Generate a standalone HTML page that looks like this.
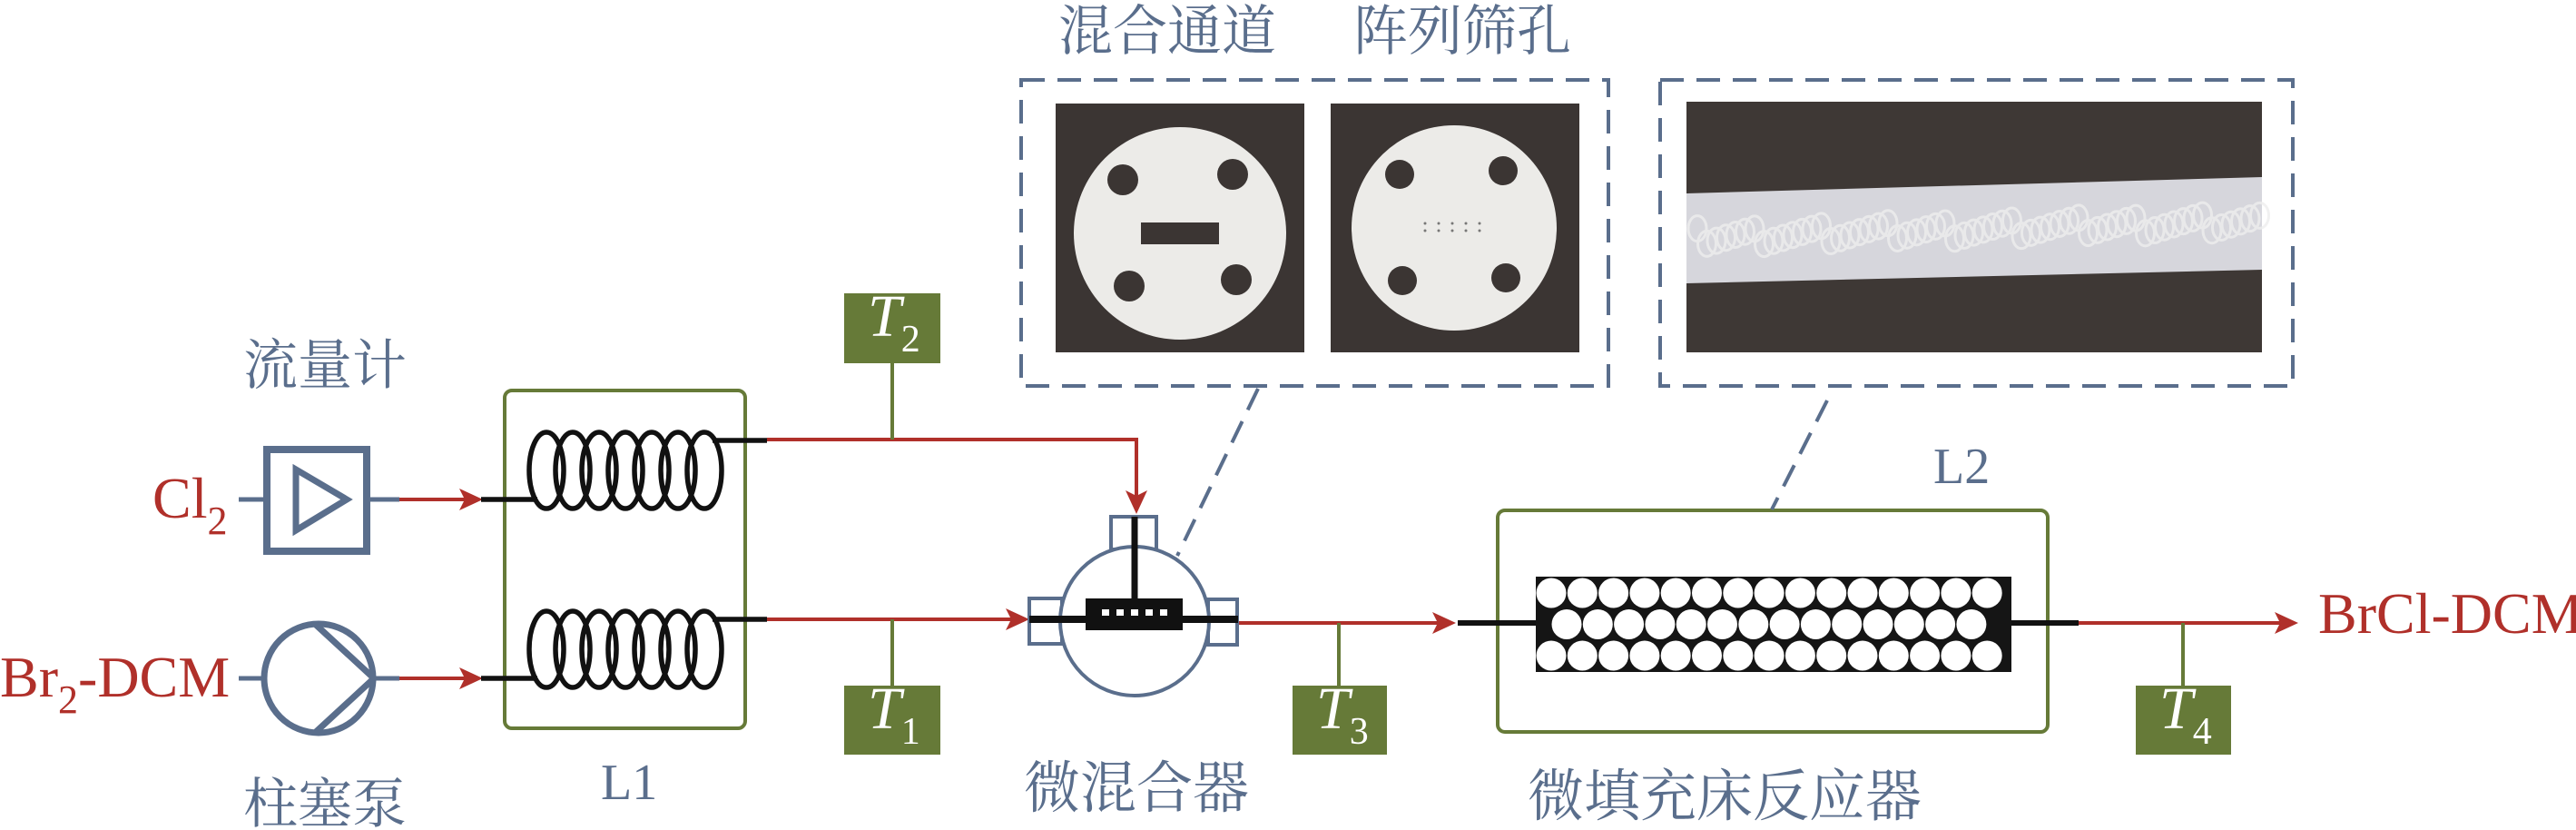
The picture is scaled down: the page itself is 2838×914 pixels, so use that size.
<!DOCTYPE html>
<html><head><meta charset="utf-8"><style>
html,body{margin:0;padding:0;background:#fff;}
svg{display:block;}
.cn{font-family:"Liberation Serif","Noto Serif CJK SC","Noto Sans CJK SC",serif;fill:#5a6e8c;}
.red{font-family:"Liberation Serif",serif;fill:#b0302a;}
.tt{font-family:"Liberation Serif",serif;fill:#fff;}
</style></head><body>
<svg width="2838" height="914" viewBox="0 0 2838 914" xmlns="http://www.w3.org/2000/svg">
<!-- labels -->
<text class="cn" x="268" y="423" font-size="60">流量计</text>
<text class="cn" x="268" y="906" font-size="60">柱塞泵</text>
<text class="cn" x="662" y="880" font-size="56">L1</text>
<text class="cn" x="2130" y="532" font-size="56">L2</text>
<text class="cn" x="1128" y="889" font-size="62">微混合器</text>
<text class="cn" x="1683" y="898" font-size="62">微填充床反应器</text>
<text class="cn" x="1166" y="55" font-size="60">混合通道</text>
<text class="cn" x="1491" y="55" font-size="60">阵列筛孔</text>
<text class="red" x="168" y="570" font-size="64">Cl<tspan font-size="44" dy="18">2</tspan></text>
<text class="red" x="0" y="767" font-size="64">Br<tspan font-size="44" dy="18">2</tspan><tspan dy="-18">-DCM</tspan></text>
<text class="red" x="2554" y="697" font-size="64">BrCl-DCM</text>

<!-- flowmeter -->
<rect x="294" y="495" width="110" height="112" fill="none" stroke="#5a6e8c" stroke-width="8"/>
<polygon points="326,517 382,550 326,584" fill="none" stroke="#5a6e8c" stroke-width="7"/>
<line x1="263" y1="550" x2="294" y2="550" stroke="#5a6e8c" stroke-width="5"/>
<line x1="404" y1="550" x2="440" y2="550" stroke="#5a6e8c" stroke-width="5"/>
<!-- pump -->
<circle cx="351" cy="747" r="60" fill="none" stroke="#5a6e8c" stroke-width="7"/>
<polyline points="348,688 412,747 348,806" fill="none" stroke="#5a6e8c" stroke-width="7"/>
<line x1="263" y1="747" x2="291" y2="747" stroke="#5a6e8c" stroke-width="5"/>
<line x1="411" y1="747" x2="440" y2="747" stroke="#5a6e8c" stroke-width="5"/>

<!-- red inputs -->
<line x1="440" y1="550" x2="520" y2="550" stroke="#b0302a" stroke-width="4"/>
<polygon points="532,550 506,538 512,550 506,562" fill="#b0302a"/>
<line x1="440" y1="747" x2="520" y2="747" stroke="#b0302a" stroke-width="4"/>
<polygon points="532,747 506,735 512,747 506,759" fill="#b0302a"/>

<!-- L1 box -->
<rect x="556" y="430" width="265" height="372" rx="8" fill="none" stroke="#667a38" stroke-width="4"/>
<!-- coils -->
<g fill="none" stroke="#111" stroke-width="5.5">
<line x1="530" y1="550" x2="592" y2="550"/><line x1="785" y1="485" x2="845" y2="485"/>
<line x1="530" y1="747" x2="592" y2="747"/><line x1="785" y1="682" x2="845" y2="682"/>
<ellipse cx="602" cy="518" rx="19" ry="42"/><ellipse cx="631" cy="518" rx="19" ry="42"/><ellipse cx="660" cy="518" rx="19" ry="42"/><ellipse cx="689" cy="518" rx="19" ry="42"/><ellipse cx="718" cy="518" rx="19" ry="42"/><ellipse cx="747" cy="518" rx="19" ry="42"/><ellipse cx="776" cy="518" rx="19" ry="42"/>
<ellipse cx="602" cy="715" rx="19" ry="42"/><ellipse cx="631" cy="715" rx="19" ry="42"/><ellipse cx="660" cy="715" rx="19" ry="42"/><ellipse cx="689" cy="715" rx="19" ry="42"/><ellipse cx="718" cy="715" rx="19" ry="42"/><ellipse cx="747" cy="715" rx="19" ry="42"/><ellipse cx="776" cy="715" rx="19" ry="42"/>
</g>

<!-- red lines to mixer -->
<polyline points="845,484 1252,484 1252,552" fill="none" stroke="#b0302a" stroke-width="4"/>
<polygon points="1252,566 1240,540 1252,546 1264,540" fill="#b0302a"/>
<line x1="845" y1="682" x2="1122" y2="682" stroke="#b0302a" stroke-width="4"/>
<polygon points="1134,682 1108,670 1114,682 1108,694" fill="#b0302a"/>
<line x1="1364" y1="686" x2="1592" y2="686" stroke="#b0302a" stroke-width="4"/>
<polygon points="1604,686 1578,674 1584,686 1578,698" fill="#b0302a"/>
<line x1="2290" y1="686" x2="2520" y2="686" stroke="#b0302a" stroke-width="4"/>
<polygon points="2532,686 2506,674 2512,686 2506,698" fill="#b0302a"/>

<!-- T stems -->
<g stroke="#667a38" stroke-width="4">
<line x1="983" y1="400" x2="983" y2="484"/>
<line x1="983" y1="682" x2="983" y2="756"/>
<line x1="1475" y1="686" x2="1475" y2="756"/>
<line x1="2405" y1="686" x2="2405" y2="756"/>
</g>
<g fill="#667a38">
<rect x="930" y="323" width="106" height="77"/>
<rect x="930" y="755" width="106" height="76"/>
<rect x="1424" y="755" width="104" height="76"/>
<rect x="2353" y="755" width="105" height="76"/>
</g>
<text class="tt" x="956" y="370" font-size="66" font-style="italic">T<tspan font-style="normal" font-size="42" dy="17">2</tspan></text>
<text class="tt" x="956" y="802" font-size="66" font-style="italic">T<tspan font-style="normal" font-size="42" dy="17">1</tspan></text>
<text class="tt" x="1450" y="802" font-size="66" font-style="italic">T<tspan font-style="normal" font-size="42" dy="17">3</tspan></text>
<text class="tt" x="2379" y="802" font-size="66" font-style="italic">T<tspan font-style="normal" font-size="42" dy="17">4</tspan></text>

<!-- mixer -->
<g fill="#fff" stroke="#5a6e8c" stroke-width="4">
<rect x="1224" y="569" width="50" height="36"/>
<rect x="1134" y="659" width="36" height="50"/>
<rect x="1331" y="660" width="32" height="50"/>
<circle cx="1250" cy="684" r="82"/>
</g>
<rect x="1196" y="659" width="107" height="12" fill="#111"/>
<rect x="1196" y="671" width="107" height="8" fill="#fff"/>
<line x1="1196" y1="675" x2="1303" y2="675" stroke="#111" stroke-width="8" stroke-dasharray="18,8,8,8,8,8,8,8,8,8,13,0"/>
<rect x="1196" y="678" width="107" height="16" fill="#111"/>
<line x1="1134" y1="682" x2="1364" y2="682" stroke="#111" stroke-width="8"/>
<line x1="1250" y1="569" x2="1250" y2="661" stroke="#111" stroke-width="7"/>

<!-- L2 -->
<rect x="1650" y="562" width="606" height="244" rx="8" fill="none" stroke="#667a38" stroke-width="4"/>
<line x1="1606" y1="686" x2="1692" y2="686" stroke="#111" stroke-width="6"/>
<line x1="2216" y1="686" x2="2290" y2="686" stroke="#111" stroke-width="6"/>
<rect x="1692" y="635" width="524" height="105" fill="#151515"/>
<g fill="#fff" id="beads"></g>

<!-- dashed boxes -->
<g fill="none" stroke="#5a6e8c" stroke-width="4" stroke-dasharray="26,14">
<rect x="1125" y="88" width="647" height="337"/>
<rect x="1829" y="88" width="697" height="337"/>
<line x1="1386" y1="428" x2="1297" y2="612"/>
<line x1="2013" y1="441" x2="1952" y2="561"/>
</g>

<!-- photos -->
<rect x="1163" y="114" width="274" height="274" fill="#3b3533"/>
<circle cx="1300" cy="257" r="117" fill="#ecebe8"/>
<g fill="#3b3533"><circle cx="1237" cy="198" r="17"/><circle cx="1358" cy="192" r="17"/><circle cx="1244" cy="315" r="17"/><circle cx="1362" cy="308" r="17"/><rect x="1257" y="245" width="86" height="24"/></g>
<rect x="1466" y="114" width="274" height="274" fill="#3b3533"/>
<circle cx="1602" cy="251" r="113" fill="#ecebe8"/>
<g fill="#3b3533"><circle cx="1542" cy="192" r="16"/><circle cx="1656" cy="188" r="16"/><circle cx="1545" cy="309" r="16"/><circle cx="1659" cy="306" r="16"/></g>
<g fill="#777"><circle cx="1570" cy="246" r="1.5"/><circle cx="1585" cy="246" r="1.5"/><circle cx="1600" cy="246" r="1.5"/><circle cx="1615" cy="246" r="1.5"/><circle cx="1630" cy="246" r="1.5"/><circle cx="1570" cy="254" r="1.5"/><circle cx="1585" cy="254" r="1.5"/><circle cx="1600" cy="254" r="1.5"/><circle cx="1615" cy="254" r="1.5"/><circle cx="1630" cy="254" r="1.5"/></g>
<rect x="1858" y="112" width="634" height="276" fill="#3e3835"/>
<polygon points="1858,213 2492,195 2492,297 1858,312" fill="#d6d6dc"/>
<g id="tb" fill="none" stroke="#eeeeee" stroke-width="3" opacity="0.8"></g>
</svg>
<script>
var g=document.getElementById('beads'),ns='http://www.w3.org/2000/svg',r=16.5;
for(var row=0;row<3;row++){var y=653+row*34.5;var off=row==1?17:0;
for(var i=0;i<16;i++){var x=1709+off+i*34.3;if(x+r>2217)continue;
var c=document.createElementNS(ns,'circle');c.setAttribute('cx',x);c.setAttribute('cy',y);c.setAttribute('r',r);g.appendChild(c);}}
var t=document.getElementById('tb');
for(var k=0;k<60;k++){var x=1870+k*10.5;var yc=262-(x-1858)*0.028+((k*37)%20-10);
var e=document.createElementNS(ns,'ellipse');e.setAttribute('cx',x);e.setAttribute('cy',yc);e.setAttribute('rx',10);e.setAttribute('ry',14);t.appendChild(e);}
</script>
</body></html>
